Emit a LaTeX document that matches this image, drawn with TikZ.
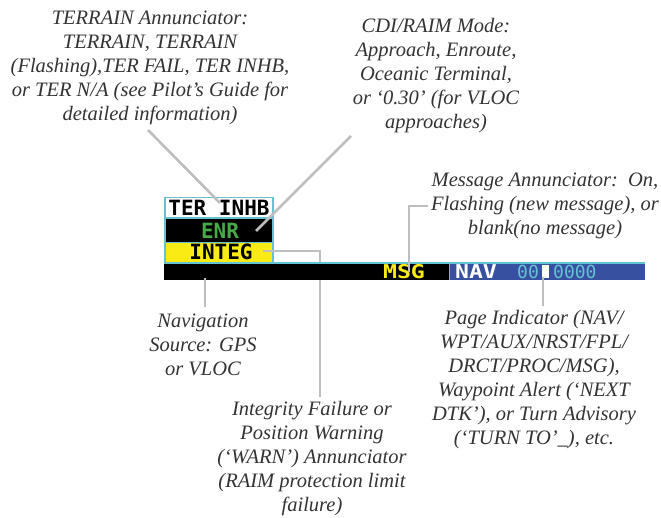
\documentclass[tikz,border=0pt]{standalone}
\usepackage{fontspec}
\setmainfont{Liberation Serif}
\setmonofont{DejaVu Sans Mono}
\newfontfamily\lcdwide[FakeStretch=1.22]{DejaVu Sans Mono}
\usepackage{tikz}
\definecolor{leader}{RGB}{190,190,192}
\definecolor{rim}{RGB}{100,195,210}
\definecolor{navblue}{RGB}{55,80,160}
\definecolor{lcdgreen}{RGB}{70,170,70}
\definecolor{lcdyellow}{RGB}{250,235,20}
\tikzset{
	note/.style={align=center,font=\fontsize{20.5}{24}\selectfont\itshape,inner sep=0pt,text=black!80},
	lcd/.style={font=\fontsize{21}{21}\selectfont\ttfamily\bfseries,inner sep=0pt},
	lcdsmall/.style={font=\fontsize{19}{19}\selectfont\lcdwide\bfseries,inner sep=0pt},
	cell/.style={inner sep=0pt,anchor=north west},
	leaderline/.style={draw=leader,line width=2.6pt}
}
\begin{document}
\begin{tikzpicture}[x=1pt,y=-1pt]
	\useasboundingbox (0,0) rectangle (661,518);

	% annunciator stack
	\fill[rim] (164,197) rectangle (274,263);
	\node[cell,fill=white,minimum width=106pt,minimum height=19pt] (ter) at (166,198) {};
	\node[cell,fill=black,minimum width=106pt,minimum height=23pt] (enr) at (166,218.5) {};
	\node[cell,fill=lcdyellow,minimum width=106pt,minimum height=19pt] (integ) at (166,243) {};
	\node[lcd] (tertext) at (219,208) {TER INHB};
	\node[lcd,text=lcdgreen] (enrtext) at (220,231) {ENR};
	\node[lcd] (integtext) at (221,252) {INTEG};

	% this leader runs behind the bar
	\coordinate (integend) at (263,251);
	\coordinate (integknee) at (320,251);
	\coordinate (integstart) at (320,397);
	\draw[leaderline] (integend) -- (integknee) -- (integstart);

	% status bar
	\fill[rim] (164,262) rectangle (645,264);
	\node[cell,fill=black,minimum width=285pt,minimum height=16pt] (bar) at (164,264) {};
	\node[cell,fill=navblue,minimum width=195pt,minimum height=16pt] (pagebar) at (450,264) {};
	\fill[rim] (449,263) rectangle (450,280);
	\node[lcdsmall,text=lcdyellow] (msgtext) at (404,272) {MSG};
	\node[lcdsmall,text=white] (navtext) at (476,272) {NAV};
	\node[lcdsmall,text=rim,anchor=west,font=\fontsize{18}{18}\selectfont\ttfamily] (pagetext) at (517,272) {00};
	\node[lcdsmall,text=rim,anchor=west,font=\fontsize{18}{18}\selectfont\ttfamily] (pagetextb) at (553,272) {0000};
	\node[fill=white,minimum width=7pt,minimum height=13pt,inner sep=0pt] (pagemark) at (545,272) {};

	% notes
	\node[note] (terrain) at (150,68) {TERRAIN Annunciator:\\TERRAIN, TERRAIN\\(Flashing),TER FAIL, TER INHB,\\or TER N/A (see Pilot's Guide for\\detailed information)};
	\node[note] (cdi) at (436,75.5) {CDI/RAIM Mode:\\Approach, Enroute,\\Oceanic Terminal,\\or `0.30' (for VLOC\\approaches)};
	\node[note] (message) at (545,206) {Message Annunciator:\ \ On,\\Flashing (new message), or\\blank(no message)};
	\node[note] (source) at (203,345) {Navigation\\Source: GPS\\or VLOC};
	\node[note] (integrity) at (312,459) {Integrity Failure or\\Position Warning\\(`WARN') Annunciator\\(RAIM protection limit\\failure)};
	\node[note] (page) at (534,380) {Page Indicator (NAV/\\WPT/AUX/NRST/FPL/\\DRCT/PROC/MSG),\\Waypoint Alert (`NEXT\\DTK'), or Turn Advisory\\(`TURN TO'\_), etc.};

	% leaders
	\coordinate (terend) at (220,203);
	\coordinate (terstart) at (148,130);
	\coordinate (cdiend) at (256,231);
	\coordinate (cdistart) at (351,136);
	\coordinate (sourceend) at (205,278);
	\coordinate (sourcestart) at (205,307);
	\coordinate (msgend) at (409,272);
	\coordinate (msgknee) at (409,206);
	\coordinate (msgstart) at (428,206);
	\coordinate (pageend) at (543,277);
	\coordinate (pagestart) at (543,306);

	\draw[leaderline] (terstart) -- (terend);
	\draw[leaderline] (cdistart) -- (cdiend);
	\draw[leaderline] (sourceend) -- (sourcestart);
	\draw[leaderline] (msgend) -- (msgknee) -- (msgstart);
	\draw[leaderline] (pageend) -- (pagestart);
\end{tikzpicture}
\end{document}
